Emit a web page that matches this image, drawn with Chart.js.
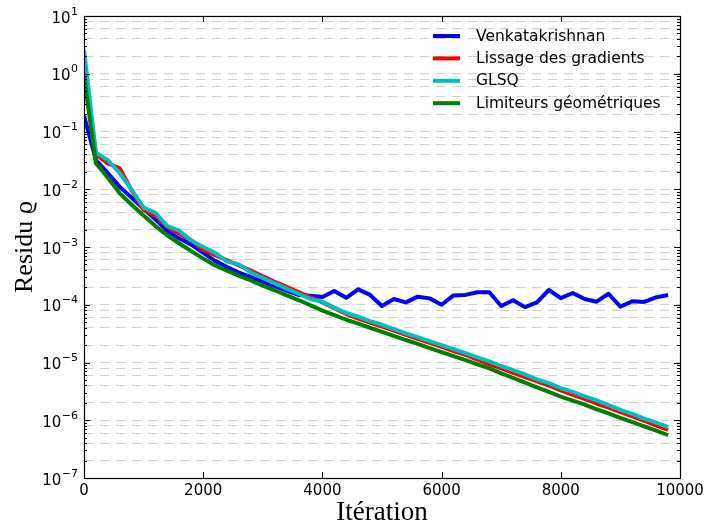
<!DOCTYPE html>
<html>
<head>
<meta charset="utf-8">
<script src="https://cdn.jsdelivr.net/npm/chart.js@4"></script>
<style>
  body { margin: 0; background: #fff; }
  canvas { display: block; }
</style>
</head>
<body>
<canvas id="chart" width="705" height="529"></canvas>
<script>
// ---- data ----
const iterations = [0, 200, 400, 600, 800, 1000, 1200, 1400, 1600, 1800,
  2000, 2200, 2400, 2600, 2800, 3000, 3200, 3400, 3600, 3800,
  4000, 4200, 4400, 4600, 4800, 5000, 5200, 5400, 5600, 5800,
  6000, 6200, 6400, 6600, 6800, 7000, 7200, 7400, 7600, 7800,
  8000, 8200, 8400, 8600, 8800, 9000, 9200, 9400, 9600, 9800];

const venkat = [0.19, 0.032, 0.019, 0.011, 0.0071, 0.0046, 0.0030, 0.0019, 0.0014, 0.0011,
  7.9e-4, 5.75e-4, 4.5e-4, 3.6e-4, 3.0e-4, 2.5e-4, 2.1e-4, 1.74e-4, 1.48e-4, 1.43e-4,
  1.36e-4, 1.73e-4, 1.32e-4, 1.85e-4, 1.48e-4, 9.5e-5, 1.26e-4, 1.1e-4, 1.38e-4, 1.29e-4,
  1.0e-4, 1.45e-4, 1.48e-4, 1.65e-4, 1.65e-4, 9.5e-5, 1.2e-4, 9.1e-5, 1.1e-4, 1.8e-4,
  1.3e-4, 1.6e-4, 1.26e-4, 1.13e-4, 1.55e-4, 9.3e-5, 1.15e-4, 1.12e-4, 1.34e-4, 1.48e-4];

const lissage = [1.0, 0.040, 0.028, 0.023, 0.0095, 0.0044, 0.0035, 0.0022, 0.0017, 0.0013,
  8.9e-4, 7.2e-4, 5.9e-4, 4.8e-4, 3.9e-4, 3.1e-4, 2.5e-4, 2.04e-4, 1.66e-4, 1.35e-4,
  1.1e-4, 8.7e-5, 6.9e-5, 5.75e-5, 4.9e-5, 4.2e-5, 3.55e-5, 3.0e-5, 2.57e-5, 2.19e-5,
  1.86e-5, 1.58e-5, 1.35e-5, 1.12e-5, 9.3e-6, 7.9e-6, 6.6e-6, 5.6e-6, 4.7e-6, 4.0e-6,
  3.3e-6, 2.75e-6, 2.34e-6, 1.95e-6, 1.66e-6, 1.38e-6, 1.17e-6, 9.8e-7, 8.1e-7, 6.8e-7];

const glsq = [2.6, 0.043, 0.032, 0.019, 0.0098, 0.0048, 0.0039, 0.0023, 0.0019, 0.0013,
  1.0e-3, 7.9e-4, 5.6e-4, 5.0e-4, 3.6e-4, 2.9e-4, 2.34e-4, 1.9e-4, 1.55e-4, 1.26e-4,
  1.12e-4, 8.9e-5, 7.2e-5, 6.2e-5, 5.2e-5, 4.5e-5, 3.8e-5, 3.2e-5, 2.75e-5, 2.34e-5,
  2.0e-5, 1.7e-5, 1.45e-5, 1.23e-5, 1.05e-5, 8.7e-6, 7.4e-6, 6.2e-6, 5.1e-6, 4.4e-6,
  3.6e-6, 3.1e-6, 2.6e-6, 2.2e-6, 1.82e-6, 1.51e-6, 1.29e-6, 1.07e-6, 9.1e-7, 7.6e-7];

const limiteurs = [0.9, 0.0282, 0.0158, 0.0085, 0.0054, 0.0035, 0.0023, 0.00158, 0.00115, 8.5e-4,
  6.3e-4, 4.8e-4, 3.9e-4, 3.16e-4, 2.63e-4, 2.14e-4, 1.78e-4, 1.45e-4, 1.2e-4, 9.8e-5,
  7.9e-5, 6.6e-5, 5.5e-5, 4.7e-5, 4.0e-5, 3.4e-5, 2.9e-5, 2.45e-5, 2.1e-5, 1.78e-5,
  1.51e-5, 1.29e-5, 1.1e-5, 9.3e-6, 7.9e-6, 6.5e-6, 5.4e-6, 4.5e-6, 3.7e-6, 3.1e-6,
  2.57e-6, 2.19e-6, 1.86e-6, 1.55e-6, 1.32e-6, 1.1e-6, 9.3e-7, 7.8e-7, 6.6e-7, 5.5e-7];

const seriesNames = ['Venkatakrishnan', 'Lissage des gradients', 'GLSQ', 'Limiteurs géométriques'];
const seriesColors = ['#0000ff', '#ff0000', '#00bfbf', '#008000'];
const decades = [1, 0, -1, -2, -3, -4, -5, -6, -7];
const gridMantissas = [1, 2, 4, 6, 8];
const xTicks = [0, 2000, 4000, 6000, 8000, 10000];

const toPoints = arr => arr.map((v, i) => ({ x: iterations[i], y: v }));

// ---- frame, tick marks, y labels (10^n), axis titles, legend ----
const decorPlugin = {
  id: 'decor',
  afterDraw(chart) {
    const { ctx, chartArea: a, scales: { x, y } } = chart;
    ctx.save();

    // inward tick marks, matplotlib style
    ctx.strokeStyle = '#000';
    ctx.lineWidth = 1;
    ctx.beginPath();
    decades.forEach(d => {
      for (let m = 1; m <= 9; m++) {
        const v = m * Math.pow(10, d);
        if (v > 10.0001) continue;
        const py = Math.round(y.getPixelForValue(v)) + 0.5;
        const len = m === 1 ? 6 : 3;
        ctx.moveTo(a.left, py); ctx.lineTo(a.left + len, py);
        ctx.moveTo(a.right, py); ctx.lineTo(a.right - len, py);
      }
    });
    xTicks.forEach(t => {
      const px = Math.round(x.getPixelForValue(t)) + 0.5;
      ctx.moveTo(px, a.bottom); ctx.lineTo(px, a.bottom - 6);
      ctx.moveTo(px, a.top); ctx.lineTo(px, a.top + 6);
    });
    ctx.stroke();

    // frame
    ctx.strokeStyle = '#000';
    ctx.lineWidth = 1.2;
    ctx.strokeRect(Math.round(a.left) + 0.5, Math.round(a.top) + 0.5,
      Math.round(a.right - a.left), Math.round(a.bottom - a.top));

    // y tick labels 10^n
    ctx.fillStyle = '#000';
    decades.forEach(d => {
      const py = y.getPixelForValue(Math.pow(10, d));
      const exp = d < 0 ? '\u2212' + (-d) : String(d);
      ctx.font = "11px 'DejaVu Sans'";
      const ew = ctx.measureText(exp).width;
      const right = a.left - 6;
      ctx.textAlign = 'left';
      ctx.textBaseline = 'alphabetic';
      ctx.fillText(exp, right - ew, py - 1.5);
      ctx.font = "15px 'DejaVu Sans'";
      ctx.textAlign = 'right';
      ctx.fillText('10', right - ew - 0.5, py + 6.5);
    });

    // axis titles
    ctx.font = "27px 'Liberation Serif', 'DejaVu Serif', serif";
    ctx.textAlign = 'center';
    ctx.textBaseline = 'alphabetic';
    ctx.fillText('Itération', (a.left + a.right) / 2, 520);
    ctx.font = "26px 'Liberation Serif', 'DejaVu Serif', serif";
    ctx.save();
    ctx.translate(32, (a.top + a.bottom) / 2);
    ctx.rotate(-Math.PI / 2);
    ctx.fillText('Residu \u03F1', 0, 0);
    ctx.restore();

    // legend (no frame)
    ctx.font = "15.5px 'DejaVu Sans'";
    ctx.textAlign = 'left';
    ctx.textBaseline = 'middle';
    seriesNames.forEach((name, i) => {
      const ly = 36 + i * 22.4;
      ctx.strokeStyle = seriesColors[i];
      ctx.lineWidth = 4;
      ctx.beginPath();
      ctx.moveTo(433, ly); ctx.lineTo(460, ly);
      ctx.stroke();
      ctx.fillStyle = '#000';
      ctx.fillText(name, 476, ly + 0.5);
    });

    ctx.restore();
  }
};

Chart.defaults.font.family = "'DejaVu Sans'";
Chart.defaults.color = '#000';

const allSeries = [venkat, lissage, glsq, limiteurs];

new Chart(document.getElementById('chart'), {
  type: 'line',
  data: {
    datasets: allSeries.map((s, i) => ({
      label: seriesNames[i],
      data: toPoints(s),
      borderColor: seriesColors[i],
      backgroundColor: seriesColors[i],
      borderWidth: 4,
      pointRadius: 0,
      tension: 0,
      borderJoinStyle: 'round',
      fill: false,
      order: 4 - i   // later series drawn on top, like matplotlib
    }))
  },
  options: {
    responsive: false,
    animation: false,
    events: [],
    layout: { padding: { left: 0, top: 16, right: 25, bottom: 0 } },
    plugins: { legend: { display: false }, tooltip: { enabled: false } },
    scales: {
      x: {
        type: 'linear',
        min: 0, max: 10000,
        afterBuildTicks: s => { s.ticks = xTicks.map(v => ({ value: v })); },
        afterFit: s => { s.height = 51; s.paddingLeft = 0; s.paddingRight = 0; },
        grid: { display: false, drawTicks: false },
        border: { display: false },
        ticks: { font: { size: 15 }, padding: 4, maxRotation: 0, color: '#000',
                 callback: v => String(v) }
      },
      y: {
        type: 'logarithmic',
        min: 1e-7, max: 10,
        afterBuildTicks: s => {
          const t = [];
          decades.forEach(d => gridMantissas.forEach(m => {
            const v = m * Math.pow(10, d);
            if (v <= 10.0001) t.push({ value: v });
          }));
          s.ticks = t;
        },
        afterFit: s => { s.width = 84; },
        grid: { color: '#cfcfcf', lineWidth: 1, drawTicks: false },
        border: { display: false, dash: [9, 7] },
        ticks: { display: false }
      }
    }
  },
  plugins: [decorPlugin]
});
</script>
</body>
</html>
